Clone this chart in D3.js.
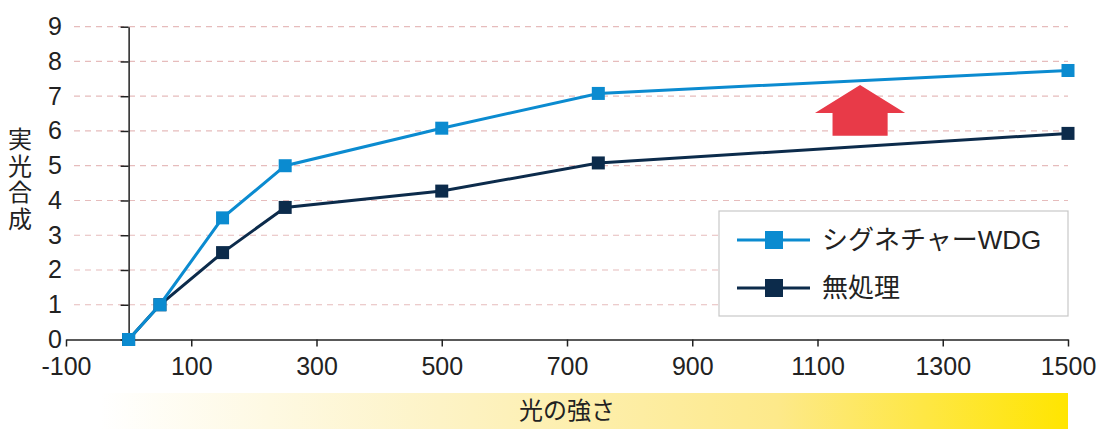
<!DOCTYPE html>
<html>
<head>
<meta charset="utf-8">
<script src="https://cdn.jsdelivr.net/npm/d3@7"></script>
<style>
  body { margin: 0; background: #fff; }
  text { font-family: "Liberation Sans", Arial, "Noto Sans CJK JP", sans-serif; }
</style>
</head>
<body>
<div id="chart"></div>
<script>
const width = 1107;
const height = 441;

// data
const lightLevels = [0, 50, 150, 250, 500, 750, 1500];
const wdgValues = [0, 1, 3.5, 5.0, 6.08, 7.08, 7.74];
const controlValues = [0, 1, 2.5, 3.8, 4.27, 5.08, 5.93];
const seriesNames = ["シグネチャーWDG", "無処理"];
const xTicks = [-100, 100, 300, 500, 700, 900, 1100, 1300, 1500];
const yTicks = [0, 1, 2, 3, 4, 5, 6, 7, 8, 9];
const yTitle = "実光合成";
const xTitle = "光の強さ";

const colors = ["#0b8bd0", "#0c2b4b"];

const svg = d3.select("#chart")
  .append("svg")
  .attr("width", width)
  .attr("height", height);

const x = d3.scaleLinear().domain([-100, 1500]).range([66, 1068]);
const y = d3.scaleLinear().domain([0, 9]).range([339.5, 26.7]);

// dashed grid lines
svg.append("g")
  .selectAll("line")
  .data(yTicks.filter(d => d > 0))
  .join("line")
  .attr("x1", 74)
  .attr("x2", x(1500))
  .attr("y1", d => y(d))
  .attr("y2", d => y(d))
  .attr("stroke", "#e6bcbc")
  .attr("stroke-width", 1.2)
  .attr("stroke-dasharray", "6,5");

// y axis at x = 0
const yAxis = svg.append("g")
  .attr("transform", `translate(${x(0)},0)`)
  .call(d3.axisLeft(y).tickValues(yTicks).tickFormat(d => String(d)).tickSize(8).tickSizeOuter(0));
yAxis.select(".domain").attr("stroke", "#222").attr("stroke-width", 1.5);
yAxis.selectAll(".tick line").attr("stroke", "#222").attr("stroke-width", 1.5);
yAxis.selectAll(".tick text")
  .attr("font-size", 25)
  .attr("fill", "#222")
  .attr("text-anchor", "middle")
  .attr("x", -(x(0) - 55));

// x axis
const xAxis = svg.append("g")
  .attr("transform", `translate(0,${y(0)})`)
  .call(d3.axisBottom(x).tickValues(xTicks).tickFormat(d => String(d)).tickSize(7).tickPadding(11).tickSizeOuter(0));
xAxis.select(".domain").attr("stroke", "#222").attr("stroke-width", 1.5);
xAxis.selectAll(".tick line").attr("stroke", "#222").attr("stroke-width", 1.5);
xAxis.selectAll(".tick text").attr("font-size", 25).attr("fill", "#222");

// y title, stacked vertically
svg.append("text")
  .attr("fill", "#222")
  .attr("font-size", 24)
  .attr("text-anchor", "middle")
  .selectAll("tspan")
  .data(yTitle.split(""))
  .join("tspan")
  .attr("x", 20)
  .attr("y", (d, i) => 148 + i * 26.5)
  .text(d => d);

// light gradient bar under the axis
const defs = svg.append("defs");
const grad = defs.append("linearGradient").attr("id", "lightGrad");
grad.append("stop").attr("offset", "0%").attr("stop-color", "#fff");
grad.append("stop").attr("offset", "35%").attr("stop-color", "#fdf3c6");
grad.append("stop").attr("offset", "70%").attr("stop-color", "#fde98a");
grad.append("stop").attr("offset", "100%").attr("stop-color", "#ffe500");

svg.append("rect")
  .attr("x", 100)
  .attr("y", 393)
  .attr("width", x(1500) - 100)
  .attr("height", 36)
  .attr("fill", "url(#lightGrad)");

svg.append("text")
  .attr("x", 567)
  .attr("y", 419)
  .attr("text-anchor", "middle")
  .attr("font-size", 24)
  .attr("fill", "#222")
  .text(xTitle);

// series
const series = [wdgValues, controlValues].map((vals, i) => ({
  name: seriesNames[i],
  color: colors[i],
  points: lightLevels.map((l, j) => ({ x: l, y: vals[j] }))
}));

const line = d3.line().x(d => x(d.x)).y(d => y(d.y));
const markerSize = 13;

// draw control first so WDG sits on top
series.slice().reverse().forEach(s => {
  const g = svg.append("g");
  g.append("path")
    .datum(s.points)
    .attr("d", line)
    .attr("fill", "none")
    .attr("stroke", s.color)
    .attr("stroke-width", 3);
  g.selectAll("rect")
    .data(s.points)
    .join("rect")
    .attr("x", d => x(d.x) - markerSize / 2)
    .attr("y", d => y(d.y) - markerSize / 2)
    .attr("width", markerSize)
    .attr("height", markerSize)
    .attr("fill", s.color);
});

// red up arrow annotation (data units)
const arrowCx = 1168, arrowTip = 7.32, arrowBase = 6.52, arrowBottom = 5.86;
const headHalf = 72, shaftHalf = 44;
const arrowPts = [
  [arrowCx, arrowTip],
  [arrowCx + headHalf, arrowBase],
  [arrowCx + shaftHalf, arrowBase],
  [arrowCx + shaftHalf, arrowBottom],
  [arrowCx - shaftHalf, arrowBottom],
  [arrowCx - shaftHalf, arrowBase],
  [arrowCx - headHalf, arrowBase]
];
svg.append("polygon")
  .attr("points", arrowPts.map(p => [x(p[0]), y(p[1])].join(",")).join(" "))
  .attr("fill", "#e83a48");

// legend
const legend = svg.append("g").attr("transform", "translate(719,211)");
legend.append("rect")
  .attr("width", 349)
  .attr("height", 105)
  .attr("fill", "#fff")
  .attr("stroke", "#c8c8c8")
  .attr("stroke-width", 1.2);

const item = legend.selectAll(".item")
  .data(series)
  .join("g")
  .attr("class", "item")
  .attr("transform", (d, i) => `translate(0,${29 + i * 48})`);
item.append("line")
  .attr("x1", 18).attr("x2", 91)
  .attr("stroke", d => d.color)
  .attr("stroke-width", 3);
item.append("rect")
  .attr("x", 55 - 9).attr("y", -9)
  .attr("width", 18).attr("height", 18)
  .attr("fill", d => d.color);
item.append("text")
  .attr("x", 103)
  .attr("y", 9)
  .attr("font-size", 26)
  .attr("fill", "#222")
  .text(d => d.name);
</script>
</body>
</html>
